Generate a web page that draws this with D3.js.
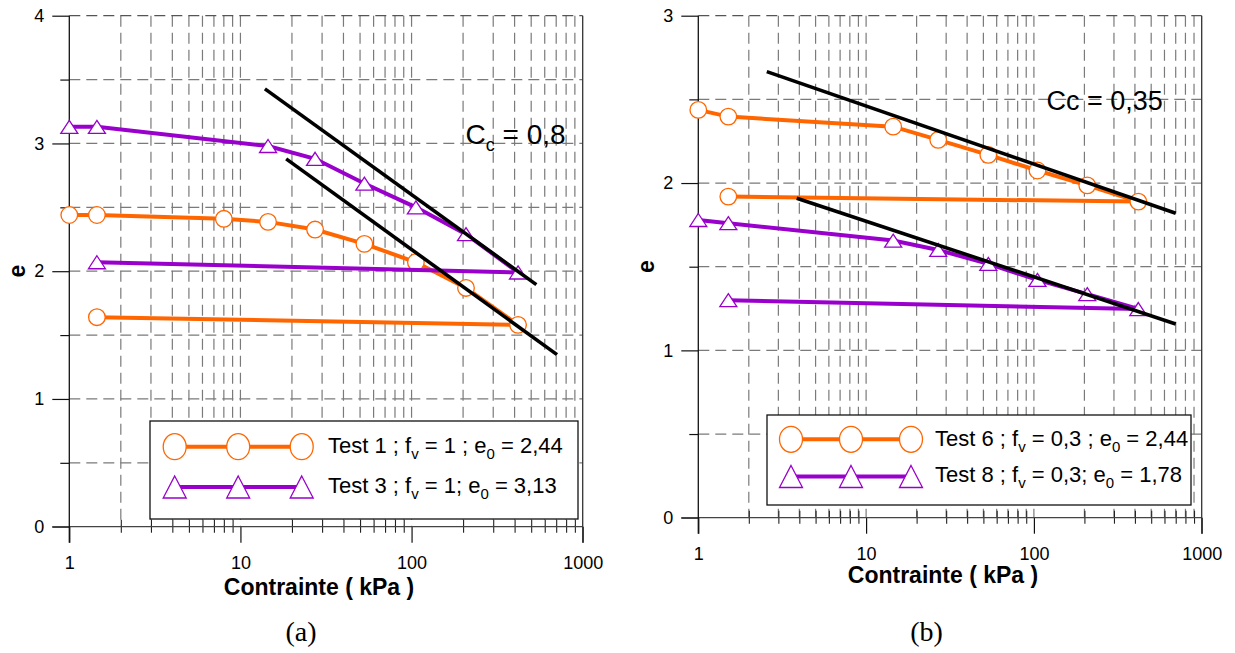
<!DOCTYPE html>
<html><head><meta charset="utf-8">
<script src="https://cdn.jsdelivr.net/npm/d3@7"></script>
<style>
body{margin:0;background:#fff}
svg{display:block}
text{font-family:"Liberation Sans",Arial,Helvetica,sans-serif;fill:#000}
</style>
</head><body>
<svg id="c" width="1235" height="653"></svg>
<script>
// ---------- Panel (a) data ----------
const test1LoadX   = [1, 1.45, 8, 14.5, 27.3, 53, 106, 208, 419];
const test1LoadE   = [2.44, 2.44, 2.41, 2.386, 2.326, 2.214, 2.07, 1.869, 1.58];
const test1UnloadX = [419, 1.45];
const test1UnloadE = [1.58, 1.64];
const test3LoadX   = [1, 1.45, 14.5, 27.3, 53, 106, 208, 419];
const test3LoadE   = [3.13, 3.13, 2.98, 2.88, 2.686, 2.50, 2.29, 1.99];
const test3UnloadX = [419, 1.45];
const test3UnloadE = [1.99, 2.07];
const ccA1X = [13.9, 536], ccA1E = [3.427, 1.895];
const ccA2X = [18.5, 708], ccA2E = [2.879, 1.347];
const legendA = ["Test 1 ; f|v| = 1 ; e|0| = 2,44", "Test 3 ; f|v| = 1; e|0| = 3,13"];
const yTicksA = [0, 1, 2, 3, 4];

// ---------- Panel (b) data ----------
const test6LoadX   = [1, 1.51, 14.5, 26.9, 53.5, 105, 208, 419];
const test6LoadE   = [2.437, 2.397, 2.337, 2.258, 2.168, 2.075, 1.986, 1.889];
const test6UnloadX = [419, 1.51];
const test6UnloadE = [1.889, 1.919];
const test8LoadX   = [1, 1.51, 14.5, 26.9, 53.5, 105, 208, 419];
const test8LoadE   = [1.779, 1.76, 1.656, 1.60, 1.517, 1.421, 1.336, 1.247];
const test8UnloadX = [419, 1.51];
const test8UnloadE = [1.247, 1.30];
const ccB1X = [2.56, 700], ccB1E = [2.666, 1.819];
const ccB2X = [3.86, 700], ccB2E = [1.909, 1.158];
const legendB = ["Test 6 ; f|v| = 0,3 ; e|0| = 2,44", "Test 8 ; f|v| = 0,3; e|0| = 1,78"];
const yTicksB = [0, 1, 2, 3];

const xTicks = [1, 10, 100, 1000];
const xTitle = "Contrainte ( kPa )";
const yTitle = "e";

const ORANGE = "#FF6600", PURPLE = "#9900CC";
const svg = d3.select("#c");

function minorX() {
  const v = [];
  for (let p = 0; p < 3; p++) for (let m = 2; m <= 10; m++) v.push(m * Math.pow(10, p));
  return v;
}
function halves(max) { const v = []; for (let t = 0.5; t <= max; t += 0.5) v.push(t); return v; }

function richText(g, str, x, y, size, subSize, subDy) {
  const t = g.append("text").attr("x", x).attr("y", y).attr("font-size", size);
  const parts = str.split("|");
  parts.forEach((p, i) => {
    if (i % 2 === 1) {
      t.append("tspan").attr("font-size", subSize).attr("dy", subDy).text(p);
    } else {
      const ts = t.append("tspan").text(p);
      if (i > 0) ts.attr("dy", -subDy);
    }
  });
  return t;
}

function triPath(w, h) {
  return `M0,${-h/2}L${w/2},${h/2}L${-w/2},${h/2}Z`;
}

function panel(cfg) {
  const x = d3.scaleLog().domain([1, 1000]).range([cfg.x0, cfg.x1]);
  const y = d3.scaleLinear().domain([0, cfg.ymax]).range([cfg.y0, cfg.y1]);
  const g = svg.append("g");

  // grid (vertical)
  g.append("g").selectAll("line").data(minorX().filter(d => d < 1000)).join("line")
    .attr("x1", d => x(d)).attr("x2", d => x(d))
    .attr("y1", y(cfg.ymax)).attr("y2", y(0))
    .attr("stroke", "#7a7a7a").attr("stroke-width", 1.2).attr("stroke-dasharray", "11,6");
  // grid (horizontal)
  g.append("g").selectAll("line").data(halves(cfg.ymax)).join("line")
    .attr("x1", x(1)).attr("x2", x(1000))
    .attr("y1", d => y(d)).attr("y2", d => y(d))
    .attr("stroke", d => d === cfg.ymax ? "#555" : "#7a7a7a").attr("stroke-width", 1.2)
    .attr("stroke-dasharray", "11,6");

  // y axis major ticks + labels
  const ya = g.append("g").attr("transform", `translate(${x(1)},0)`)
    .call(d3.axisLeft(y).tickValues(cfg.yTicks).tickSize(17).tickPadding(8).tickFormat(d3.format("d")));
  ya.select(".domain").remove();
  ya.selectAll("line").attr("stroke", "#111").attr("stroke-width", 1.2);
  ya.selectAll("text").attr("font-size", 18).attr("font-family", "Liberation Sans, Arial, sans-serif").attr("fill", "#111");
  // y minor ticks
  const ym = g.append("g").attr("transform", `translate(${x(1)},0)`)
    .call(d3.axisLeft(y).tickValues(halves(cfg.ymax).filter(d => d % 1 !== 0)).tickSize(9).tickFormat(""));
  ym.select(".domain").remove();
  ym.selectAll("line").attr("stroke", "#111").attr("stroke-width", 1.2);

  // x axis major ticks + labels
  const xa = g.append("g").attr("transform", `translate(0,${y(0)})`)
    .call(d3.axisBottom(x).tickValues(xTicks).tickSize(16).tickPadding(14).tickFormat(d3.format("d")));
  xa.select(".domain").remove();
  xa.selectAll("line").attr("stroke", "#111").attr("stroke-width", 1.2);
  xa.selectAll("text").attr("font-size", 18).attr("font-family", "Liberation Sans, Arial, sans-serif").attr("fill", "#111");
  // x minor ticks crossing axis
  const minors = minorX().filter(d => ![10, 100, 1000].includes(d));
  [d3.axisBottom(x).tickSize(6), d3.axisTop(x).tickSize(7)].forEach(ax => {
    const m = g.append("g").attr("transform", `translate(0,${y(0)})`)
      .call(ax.tickValues(minors).tickFormat(""));
    m.select(".domain").remove();
    m.selectAll("line").attr("stroke", "#222").attr("stroke-width", 1.1);
  });

  // axes lines / frame
  g.append("line").attr("x1", x(1) - 17).attr("x2", x(1000)).attr("y1", y(0)).attr("y2", y(0))
    .attr("stroke", "#444").attr("stroke-width", 1.3);
  g.append("line").attr("x1", x(1)).attr("x2", x(1)).attr("y1", y(cfg.ymax)).attr("y2", y(0) + 16)
    .attr("stroke", "#111").attr("stroke-width", 1.3);
  g.append("line").attr("x1", x(1000)).attr("x2", x(1000)).attr("y1", y(cfg.ymax)).attr("y2", y(0) + 16)
    .attr("stroke", "#333").attr("stroke-width", 1.3);

  // series
  const line = d3.line().x(d => x(d[0])).y(d => y(d[1]));
  cfg.series.forEach(s => {
    const load = d3.zip(s.lx, s.le), unload = d3.zip(s.ux, s.ue);
    g.append("path").attr("d", line(unload)).attr("fill", "none").attr("stroke", s.color).attr("stroke-width", 4);
    g.append("path").attr("d", line(load)).attr("fill", "none").attr("stroke", s.color).attr("stroke-width", 4);
    const pts = load.concat([unload[unload.length - 1]]);
    if (s.marker === "circle") {
      g.append("g").selectAll("circle").data(pts).join("circle")
        .attr("cx", d => x(d[0])).attr("cy", d => y(d[1])).attr("r", 8.3)
        .attr("fill", "#fff").attr("stroke", s.color).attr("stroke-width", 1.3);
    } else {
      g.append("g").selectAll("path").data(pts).join("path")
        .attr("transform", d => `translate(${x(d[0])},${y(d[1])})`)
        .attr("d", triPath(17, 13))
        .attr("fill", "#fff").attr("stroke", s.color).attr("stroke-width", 1.3);
    }
  });

  // Cc lines
  cfg.cc.forEach(c => {
    g.append("path").attr("d", line(d3.zip(c.x, c.e))).attr("fill", "none")
      .attr("stroke", "#000").attr("stroke-width", 3.6);
  });

  // Cc label
  cfg.ccLabel(g);

  // legend
  const L = cfg.legend;
  g.append("rect").attr("x", L.x).attr("y", L.y).attr("width", L.w).attr("height", L.h)
    .attr("fill", "#fff").attr("stroke", "#111").attr("stroke-width", 1.3);
  const lx = [L.mx, L.mx + L.step, L.mx + 2 * L.step];
  cfg.series.forEach((s, i) => {
    const yy = L.rows[i];
    g.append("line").attr("x1", lx[0]).attr("x2", lx[2]).attr("y1", yy).attr("y2", yy)
      .attr("stroke", s.color).attr("stroke-width", 4);
    lx.forEach(px => {
      if (s.marker === "circle") {
        g.append("ellipse").attr("cx", px).attr("cy", yy).attr("rx", 11.5).attr("ry", 13)
          .attr("fill", "#fff").attr("stroke", s.color).attr("stroke-width", 1.3);
      } else {
        g.append("path").attr("transform", `translate(${px},${yy})`).attr("d", triPath(23, 22))
          .attr("fill", "#fff").attr("stroke", s.color).attr("stroke-width", 1.3);
      }
    });
    richText(g, cfg.legendText[i], L.tx, L.base[i], 22, 15, 6);
  });

  // axis titles
  g.append("text").attr("x", (x(1) + x(1000)) / 2 - 7).attr("y", y(0) + cfg.xtDy)
    .attr("text-anchor", "middle").attr("font-size", 23).attr("font-weight", "bold").text(xTitle);
  g.append("text").attr("transform", `translate(${x(1) - cfg.ytDx},${(y(0) + y(cfg.ymax)) / 2}) rotate(-90)`)
    .attr("text-anchor", "middle").attr("dy", "0.35em").attr("font-size", 23).attr("font-weight", "bold").text(yTitle);

  // panel letter
  g.append("text").attr("x", cfg.letterX).attr("y", 641).attr("text-anchor", "middle")
    .style("font-family", "Liberation Serif, Times New Roman, serif")
    .attr("font-size", 28).text(cfg.letter);
}

panel({
  x0: 69.3, x1: 582.7, y0: 526.7, y1: 15.7, ymax: 4, yTicks: yTicksA,
  series: [
    {lx: test1LoadX, le: test1LoadE, ux: test1UnloadX, ue: test1UnloadE, color: ORANGE, marker: "circle"},
    {lx: test3LoadX, le: test3LoadE, ux: test3UnloadX, ue: test3UnloadE, color: PURPLE, marker: "tri"}
  ],
  cc: [{x: ccA1X, e: ccA1E}, {x: ccA2X, e: ccA2E}],
  ccLabel: g => richText(g, "C|c| = 0,8", 465.5, 144, 28, 18, 7),
  legend: {x: 150, y: 421, w: 428, h: 98, mx: 174.7, step: 63.5, rows: [446.7, 487], tx: 328, base: [453, 493]},
  legendText: legendA,
  xtDy: 68, ytDx: 52, letter: "(a)", letterX: 301
});

panel({
  x0: 698.3, x1: 1201.7, y0: 517.7, y1: 15.7, ymax: 3, yTicks: yTicksB,
  series: [
    {lx: test6LoadX, le: test6LoadE, ux: test6UnloadX, ue: test6UnloadE, color: ORANGE, marker: "circle"},
    {lx: test8LoadX, le: test8LoadE, ux: test8UnloadX, ue: test8UnloadE, color: PURPLE, marker: "tri"}
  ],
  cc: [{x: ccB1X, e: ccB1E}, {x: ccB2X, e: ccB2E}],
  ccLabel: g => g.append("text").attr("x", 1046.5).attr("y", 110).attr("font-size", 27).text("Cc = 0,35"),
  legend: {x: 767, y: 415, w: 424, h: 90, mx: 791, step: 60, rows: [439.3, 476.5], tx: 935, base: [445.7, 481.7]},
  legendText: legendB,
  xtDy: 65.5, ytDx: 52, letter: "(b)", letterX: 926.5
});
</script>
</body></html>
